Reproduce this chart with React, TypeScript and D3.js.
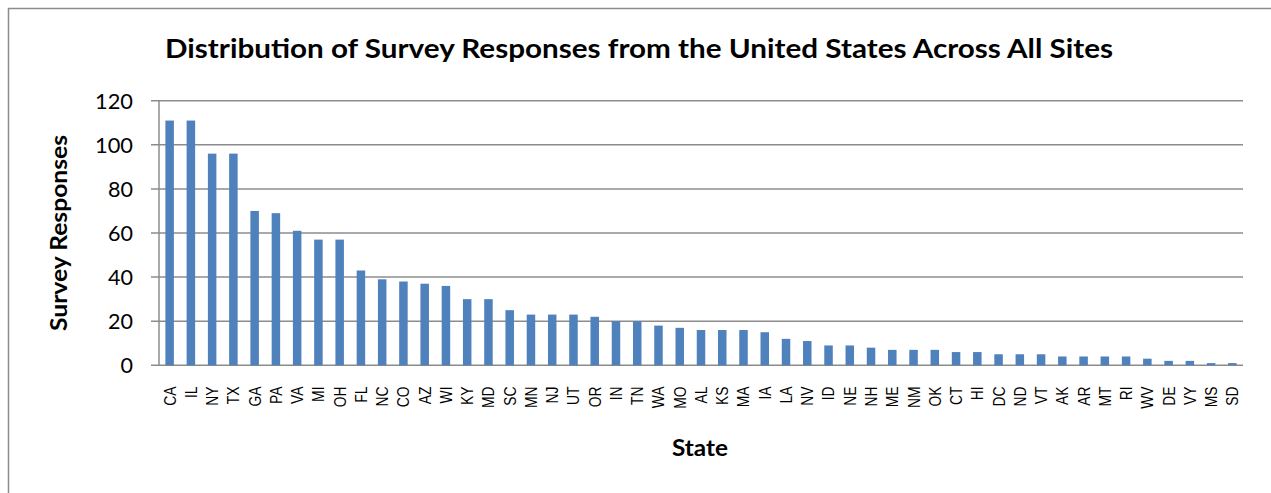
import React from "react";
import * as d3 from "d3";

// Survey responses per state, sorted high to low
const states = [
  "CA", "IL", "NY", "TX", "GA", "PA", "VA", "MI", "OH", "FL", "NC", "CO", "AZ",
  "WI", "KY", "MD", "SC", "MN", "NJ", "UT", "OR", "IN", "TN", "WA", "MO", "AL",
  "KS", "MA", "IA", "LA", "NV", "ID", "NE", "NH", "ME", "NM", "OK", "CT", "HI",
  "DC", "ND", "VT", "AK", "AR", "MT", "RI", "WV", "DE", "VY", "MS", "SD",
];
const responses = [
  111, 111, 96, 96, 70, 69, 61, 57, 57, 43, 39, 38, 37,
  36, 30, 30, 25, 23, 23, 23, 22, 20, 20, 18, 17, 16,
  16, 16, 15, 12, 11, 9, 9, 8, 7, 7, 7, 6, 6,
  5, 5, 5, 4, 4, 4, 4, 3, 2, 2, 1, 1,
];
const yTicks = [0, 20, 40, 60, 80, 100, 120];

const titleText = "Distribution of Survey Responses from the United States Across All Sites";
const yAxisTitle = "Survey Responses";
const xAxisTitle = "State";

const W = 1271;
const H = 493;
const plot = { left: 159, right: 1243, top: 100.7, bottom: 365.3 };

const heading = "Lato, 'Open Sans', sans-serif";
const labelFont = "'Liberation Sans', Arial, sans-serif";
const gridColor = "#8c8c8c";
const barColor = "#4f81bd";

export default function App() {
  const x = d3.scaleBand<string>().domain(states).range([plot.left, plot.right]).padding(0);
  const y = d3.scaleLinear().domain([0, 120]).range([plot.bottom, plot.top]);
  const barW = x.bandwidth() * 0.4;

  return (
    <svg
      width={W}
      height={H}
      style={{ position: "absolute", left: 0, top: 0, background: "#fff" }}
    >
      <rect x={8.5} y={8.5} width={1400} height={700} fill="none" stroke="#8c8c8c" strokeWidth={1.5} />

      <text
        x={639}
        y={58}
        textAnchor="middle"
        fontFamily={heading}
        fontWeight="bold"
        fontSize={26}
        textLength={948}
        lengthAdjust="spacingAndGlyphs"
      >
        {titleText}
      </text>

      {/* horizontal gridlines with outer tick stubs */}
      {yTicks.map((t) => (
        <g key={t}>
          <line
            x1={plot.left - 8}
            x2={plot.right}
            y1={y(t)}
            y2={y(t)}
            stroke={gridColor}
            strokeWidth={1.5}
          />
          <text
            x={133}
            y={y(t)}
            dy="0.36em"
            textAnchor="end"
            fontFamily={heading}
            fontSize={22}
            textLength={t >= 100 ? 38 : t > 0 ? 25 : 12.5}
            lengthAdjust="spacingAndGlyphs"
            fill="#000"
          >
            {t}
          </text>
        </g>
      ))}
      <line x1={plot.left} x2={plot.left} y1={plot.top} y2={plot.bottom} stroke={gridColor} strokeWidth={1.5} />

      {states.map((s, i) => (
        <rect
          key={s}
          x={(x(s) as number) + (x.bandwidth() - barW) / 2}
          y={y(responses[i])}
          width={barW}
          height={y(0) - y(responses[i])}
          fill={barColor}
        />
      ))}

      {states.map((s) => {
        const cx = (x(s) as number) + x.bandwidth() / 2;
        return (
          <text
            key={`l-${s}`}
            transform={`translate(${cx},386.5) rotate(-90) scale(0.84,1)`}
            textAnchor="end"
            dy="0.36em"
            fontFamily={labelFont}
            fontSize={16.5}
            fill="#000"
          >
            {s}
          </text>
        );
      })}

      <text
        transform="translate(59.5,233) rotate(-90)"
        dy="0.36em"
        textAnchor="middle"
        fontFamily={heading}
        fontWeight="bold"
        fontSize={22}
        textLength={196}
        lengthAdjust="spacingAndGlyphs"
      >
        {yAxisTitle}
      </text>

      <text
        x={700}
        y={456}
        textAnchor="middle"
        fontFamily={heading}
        fontWeight="bold"
        fontSize={22}
        textLength={56}
        lengthAdjust="spacingAndGlyphs"
      >
        {xAxisTitle}
      </text>
    </svg>
  );
}
